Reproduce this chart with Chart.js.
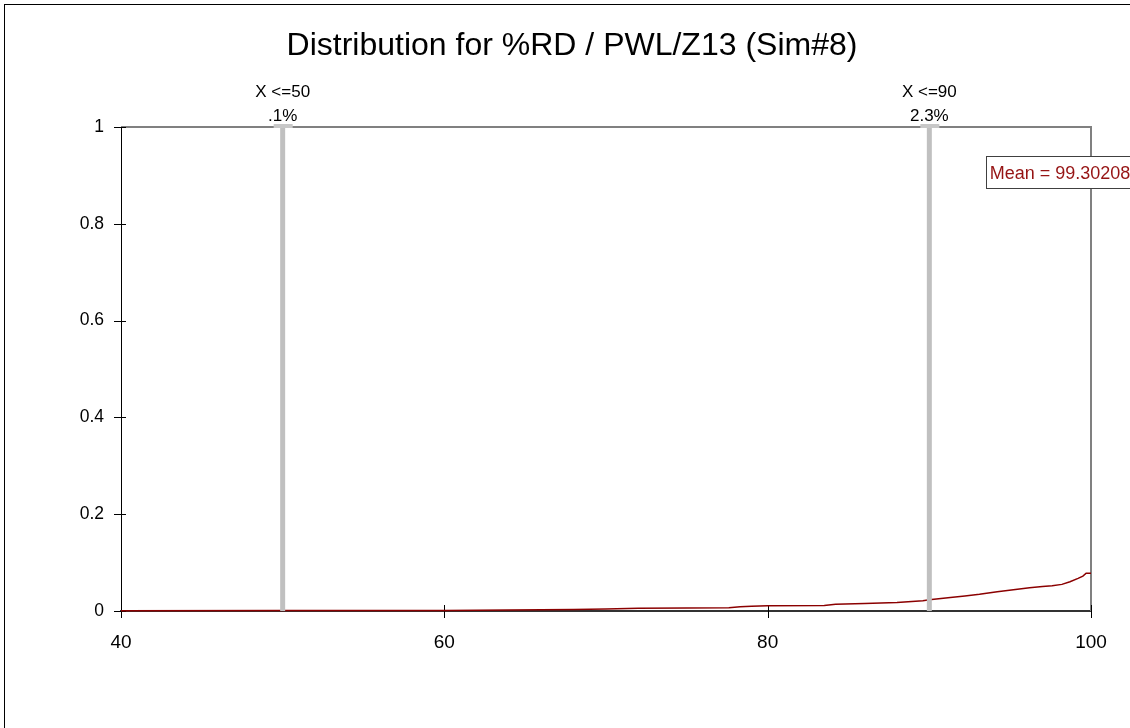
<!DOCTYPE html>
<html>
<head>
<meta charset="utf-8">
<script src="https://cdn.jsdelivr.net/npm/chart.js@4.4.1/dist/chart.umd.min.js"></script>
<style>
  html, body { margin: 0; padding: 0; background: #fff; overflow: hidden; }
  #wrap { width: 1130px; height: 728px; position: relative; }
</style>
</head>
<body>
<div id="wrap"><canvas id="chart" width="1130" height="728"></canvas></div>
<script>
const titleText = "Distribution for %RD / PWL/Z13 (Sim#8)"

// cumulative curve
const cdfX = [40, 50, 60, 64, 66, 68, 70, 72, 75, 77.6, 78.3, 79, 80, 83.5, 84.2, 86, 88, 89.6, 90, 91.3, 92.2, 93.1, 94.2, 95.2, 96.2, 97.0, 97.6, 98.2, 98.7, 99.2, 99.5, 99.7, 100]
const cdfY = [0.0003, 0.001, 0.0012, 0.002, 0.0025, 0.003, 0.004, 0.0055, 0.006, 0.0065, 0.009, 0.010, 0.011, 0.0115, 0.014, 0.0155, 0.0175, 0.021, 0.023, 0.028, 0.031, 0.0345, 0.040, 0.044, 0.048, 0.0505, 0.052, 0.055, 0.0605, 0.0675, 0.072, 0.078, 0.078]

// delimiter markers
const markerX = [50, 90]
const markerPct = [".1%", "2.3%"]
const meanValue = 99.30208

const xTicks = [40, 60, 80, 100]
const yTicks = [0, 0.2, 0.4, 0.6, 0.8, 1]

const FONT = "'Liberation Sans', Arial, sans-serif"

const decor = {
  id: "decor",
  beforeDraw(chart) {
    const ctx = chart.ctx
    ctx.save()
    ctx.fillStyle = "#ffffff"
    ctx.fillRect(0, 0, chart.width, chart.height)
    ctx.strokeStyle = "#000000"
    ctx.lineWidth = 1
    ctx.strokeRect(4.5, 4.5, 3000, 3000)
    ctx.restore()
  },
  beforeDatasetsDraw(chart) {
    const { ctx, chartArea: a, scales: { x, y } } = chart
    ctx.save()
    // top and right frame
    ctx.strokeStyle = "#808080"
    ctx.lineWidth = 2
    ctx.beginPath()
    ctx.moveTo(a.left, a.top)
    ctx.lineTo(a.right, a.top)
    ctx.lineTo(a.right, a.bottom)
    ctx.stroke()
    // tick marks crossing the axes
    ctx.strokeStyle = "#000000"
    ctx.lineWidth = 1
    ctx.beginPath()
    xTicks.forEach(v => {
      const px = Math.round(x.getPixelForValue(v)) + 0.5
      ctx.moveTo(px, a.bottom - 6)
      ctx.lineTo(px, a.bottom + 7)
    })
    yTicks.forEach(v => {
      const py = Math.round(y.getPixelForValue(v)) + 0.5
      ctx.moveTo(a.left - 7, py)
      ctx.lineTo(a.left + 5, py)
    })
    ctx.stroke()
    ctx.restore()
  },
  afterDatasetsDraw(chart) {
    const { ctx, chartArea: a, scales: { x } } = chart
    ctx.save()
    // marker caps and labels
    markerX.forEach((v, i) => {
      const px = x.getPixelForValue(v)
      ctx.fillStyle = "#c8c8c8"
      ctx.fillRect(px - 9, a.top - 3, 19, 4)
      ctx.fillStyle = "#000000"
      ctx.font = "17px " + FONT
      ctx.textAlign = "center"
      ctx.textBaseline = "alphabetic"
      ctx.fillText("X <=" + v, px, a.top - 30)
      ctx.fillText(markerPct[i], px, a.top - 6)
    })
    // mean box
    const mx = x.getPixelForValue(meanValue) - 94
    const my = a.top + 29
    ctx.fillStyle = "#ffffff"
    ctx.fillRect(mx, my, 300, 32)
    ctx.strokeStyle = "#404040"
    ctx.lineWidth = 1
    ctx.strokeRect(Math.round(mx) + 0.5, my + 0.5, 300, 32)
    ctx.fillStyle = "#961414"
    ctx.font = "18px " + FONT
    ctx.textAlign = "left"
    ctx.fillText("Mean = " + meanValue, mx + 4, my + 23)
    ctx.restore()
  }
}

const datasets = markerX.map(v => ({
  data: [{ x: v, y: 0 }, { x: v, y: 1 }],
  borderColor: "#c0c0c0",
  borderWidth: 5,
  pointRadius: 0,
  showLine: true,
  clip: false,
  order: 0
}))

datasets.push({
  data: cdfX.map((v, i) => ({ x: v, y: cdfY[i] })),
  borderColor: "#8b0000",
  borderWidth: 1.5,
  pointRadius: 0,
  showLine: true,
  tension: 0,
  clip: false,
  order: 1
})

new Chart(document.getElementById("chart"), {
  type: "scatter",
  data: { datasets },
  options: {
    responsive: false,
    animation: false,
    devicePixelRatio: 1,
    layout: { padding: { left: 53, right: 39, top: 0, bottom: 0 } },
    scales: {
      x: {
        type: "linear",
        min: 40,
        max: 100,
        afterFit: s => { s.height = 117 },
        afterBuildTicks: s => { s.ticks = xTicks.map(v => ({ value: v })) },
        grid: { drawOnChartArea: false, drawTicks: false },
        border: { color: "#333333", width: 2 },
        ticks: {
          padding: 20,
          color: "#000000",
          font: { family: FONT, size: 19 },
          maxRotation: 0,
          callback: v => String(v)
        }
      },
      y: {
        min: 0,
        max: 1,
        afterFit: s => { s.width = 68 },
        afterBuildTicks: s => { s.ticks = yTicks.map(v => ({ value: v })) },
        grid: { drawOnChartArea: false, drawTicks: false },
        border: { color: "#000000", width: 1 },
        ticks: {
          padding: 17,
          color: "#000000",
          font: { family: FONT, size: 17.5 },
          callback: v => String(v)
        }
      }
    },
    plugins: {
      legend: { display: false },
      tooltip: { enabled: false },
      title: {
        display: true,
        text: titleText,
        color: "#000000",
        font: { family: FONT, size: 32, weight: "normal", lineHeight: 1.2 },
        padding: { top: 27, bottom: 61.6 }
      }
    }
  },
  plugins: [decor]
})
</script>
</body>
</html>
